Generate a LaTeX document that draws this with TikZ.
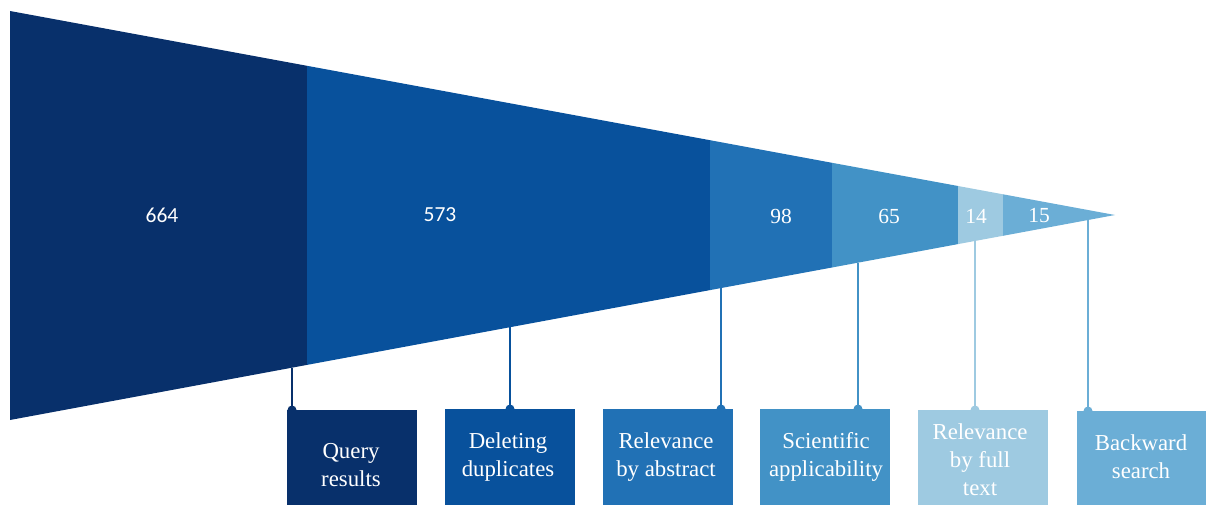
\documentclass[tikz,border=0pt]{standalone}
\usepackage{fontspec}
\setmainfont{Liberation Serif}
\newfontfamily\numsans{Carlito}
\definecolor{blueA}{HTML}{08306B}
\definecolor{blueB}{HTML}{08519C}
\definecolor{blueC}{HTML}{2171B5}
\definecolor{blueD}{HTML}{4292C6}
\definecolor{blueE}{HTML}{9ECAE1}
\definecolor{blueF}{HTML}{6BAED6}
\begin{document}
\begin{tikzpicture}[x=1pt,y=-1pt,
  numtext/.style={text=white, inner sep=0pt, font=\fontsize{21.5}{25}\selectfont},
  stagebox/.style={anchor=north west, inner sep=0pt, minimum width=130pt, minimum height=96pt, draw=none},
  stagetext/.style={text=white, align=center, inner sep=0pt, font=\fontsize{22.8}{28}\selectfont},
  conn/.style={line width=1.3pt},
  dot/.style={circle, inner sep=0pt, minimum size=9pt}]
\useasboundingbox (0,0) rectangle (1206,505);

% funnel outline points (top edge / bottom edge at each boundary)
\coordinate (t0) at (10,11);    \coordinate (u0) at (10,420);
\coordinate (t1) at (307,65.8); \coordinate (u1) at (307,364.9);
\coordinate (t2) at (710,140.2);\coordinate (u2) at (710,290.1);
\coordinate (t3) at (832,162.8);\coordinate (u3) at (832,267.5);
\coordinate (t4) at (958,186.0);\coordinate (u4) at (958,244.1);
\coordinate (t5) at (1003,194.3);\coordinate (u5) at (1003,235.8);
\coordinate (tip) at (1115,215);

% funnel segments
\fill[blueA] (t0) -- (t1) -- (u1) -- (u0) -- cycle;
\fill[blueB] (t1) -- (t2) -- (u2) -- (u1) -- cycle;
\fill[blueC] (t2) -- (t3) -- (u3) -- (u2) -- cycle;
\fill[blueD] (t3) -- (t4) -- (u4) -- (u3) -- cycle;
\fill[blueE] (t4) -- (t5) -- (u5) -- (u4) -- cycle;
\fill[blueF] (t5) -- (tip) -- (u5) -- cycle;

% counts
\node[numtext, font=\numsans\fontsize{21.5}{25}\selectfont] (n1) at (162,215) {664};
\node[numtext, font=\numsans\fontsize{21.5}{25}\selectfont] (n2) at (440,215) {573};
\node[numtext] (n3) at (781,216) {98};
\node[numtext] (n4) at (889,216) {65};
\node[numtext] (n5) at (976,216) {14};
\node[numtext] (n6) at (1039,216) {15};

% stage boxes
\node[stagebox, fill=blueA] (b1) at (287,410) {};
\node[stagebox, fill=blueB] (b2) at (445,409) {};
\node[stagebox, fill=blueC] (b3) at (603,409) {};
\node[stagebox, fill=blueD] (b4) at (760,409) {};
\node[stagebox, fill=blueE] (b5) at (918,410) {};
\node[stagebox, fill=blueF] (b6) at (1077,411) {};

\node[stagetext] (s1) at (351,465) {Query\\results};
\node[stagetext] (s2) at (508,457) {Deleting\\duplicates};
\node[stagetext] (s3) at (666,457) {Relevance\\by abstract};
\node[stagetext] (s4) at (826,457) {Scientific\\applicability};
\node[stagetext] (s5) at (980,460) {Relevance\\by full\\text};
\node[stagetext] (s6) at (1141,457) {Backward\\search};

% attachment points on the funnel's lower edge
\coordinate (c1) at (292,367.7);
\coordinate (c2) at (510,327.2);
\coordinate (c3) at (721,288.1);
\coordinate (c4) at (858,262.7);
\coordinate (c5) at (975,241.0);
\coordinate (c6) at (1088,220.0);

% connectors with end dots
\foreach \c/\b/\col in {c1/b1/blueA, c2/b2/blueB, c3/b3/blueC, c4/b4/blueD, c5/b5/blueE, c6/b6/blueF}{
  \draw[conn, \col] (\c) -- (\c |- \b.north);
  \node[dot, fill=\col] at (\c |- \b.north) {};
}
\end{tikzpicture}
\end{document}
